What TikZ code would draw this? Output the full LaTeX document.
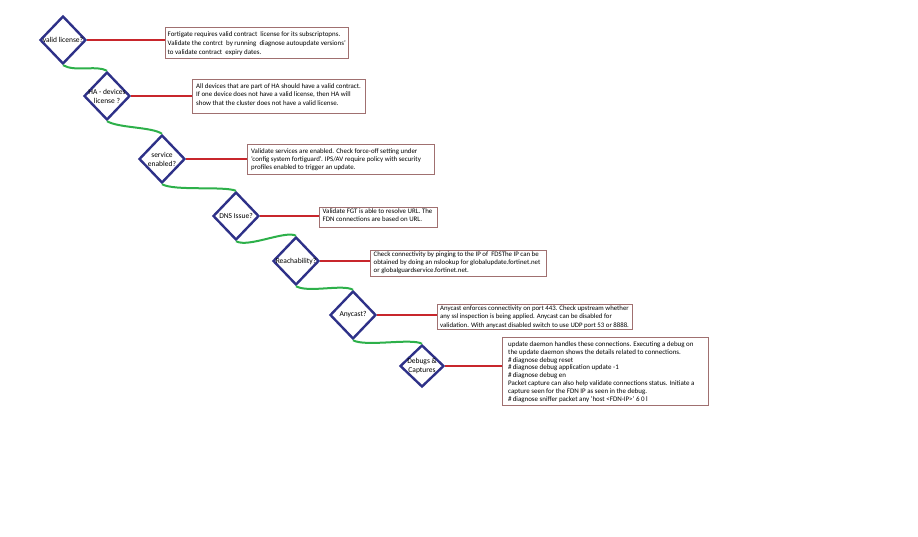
\documentclass[tikz,border=0pt]{standalone}
\usepackage{fontspec}
\setmainfont{Carlito}
\usetikzlibrary{shapes.geometric}
\definecolor{dblue}{HTML}{2E3188}
\definecolor{lred}{HTML}{C8262C}
\definecolor{lgreen}{HTML}{2DB04A}
\definecolor{bgrey}{HTML}{A07070}
\tikzset{
  dia/.style={draw=dblue, line width=2.4pt, diamond, inner sep=0pt, minimum width=46pt, minimum height=48pt},
  dtext/.style={font=\fontsize{7.5}{9}\selectfont, align=center, inner sep=0pt, text=black},
  boxr/.style={draw=bgrey, line width=0.6pt, anchor=north west, inner sep=0pt, rectangle},
  btext/.style={anchor=north west, inner sep=0pt, align=left, text=black},
  redline/.style={draw=lred, line width=2.4pt},
  greenline/.style={draw=lgreen, line width=2pt},
}
\newcommand{\bfnt}[2]{\fontsize{#1}{#2}\selectfont}
\begin{document}
\begin{tikzpicture}[x=1pt,y=-1pt]
\useasboundingbox (0,0) rectangle (918,536);
% diamonds
\node[dia] (d1) at (63,40) {};
\node[dia] (d2) at (107,96) {};
\node[dia] (d3) at (162,159) {};
\node[dia] (d4) at (236,216) {};
\node[dia] (d5) at (296,261) {};
\node[dia] (d6) at (353,315) {};
\node[dia, minimum width=44pt, minimum height=42pt] (d7) at (422,366) {};
\node[dtext] (t1) at (d1) {valid license?};
\node[dtext] (t2) at (d2) {HA - devices\\license ?};
\node[dtext] (t3) at (d3) {service\\enabled?};
\node[dtext] (t4) at (d4) {DNS Issue?};
\node[dtext] (t5) at (d5) {Reachability?};
\node[dtext] (t6) at (d6) {Anycast?};
\node[dtext] (t7) at (d7) {Debugs \&\\Captures};
% boxes
\node[boxr, minimum width=183pt, minimum height=31pt] (b1) at (165,27) {};
\node[boxr, minimum width=173pt, minimum height=34pt] (b2) at (192,79) {};
\node[boxr, minimum width=187pt, minimum height=30pt] (b3) at (247,144) {};
\node[boxr, minimum width=118pt, minimum height=20pt] (b4) at (319,207) {};
\node[boxr, minimum width=176pt, minimum height=26pt] (b5) at (370,250) {};
\node[boxr, minimum width=195pt, minimum height=25pt] (b6) at (437,304) {};
\node[boxr, minimum width=206pt, minimum height=68pt] (b7) at (502,337) {};
% box texts
\node[btext, font=\bfnt{6.95}{9}] (x1) at ([xshift=2.5pt,yshift=-4.2pt]b1.north west) {Fortigate requires valid contract\ \ license for its subscriptopns.\\Validate the contrct\ \ by running\ \ diagnose autoupdate versions'\\to validate contract\ \ expiry dates.};
\node[btext, font=\bfnt{6.9}{8.7}] (x2) at ([xshift=4pt,yshift=-4.2pt]b2.north west) {All devices that are part of HA should have a valid contract.\\If one device does not have a valid license, then HA will\\show that the cluster does not have a valid license.};
\node[btext, font=\bfnt{6.9}{8}] (x3) at ([xshift=4pt,yshift=-5pt]b3.north west) {Validate services are enabled. Check force-off setting under\\'config system fortiguard'. IPS/AV require policy with security\\profiles enabled to trigger an update.};
\node[btext, font=\bfnt{6.9}{8}] (x4) at ([xshift=3.5pt,yshift=-1.5pt]b4.north west) {Validate FGT is able to resolve URL. The\\FDN connections are based on URL.};
\node[btext, font=\bfnt{6.85}{8}] (x5) at ([xshift=3.5pt,yshift=-1.5pt]b5.north west) {Check connectivity by pinging to the IP of\ \ FDSThe IP can be\\obtained by doing an nslookup for globalupdate.fortinet.net\\or globalguardservice.fortinet.net.};
\node[btext, font=\bfnt{6.8}{8.3}] (x6) at ([xshift=3pt,yshift=-1.5pt]b6.north west) {Anycast enforces connectivity on port 443. Check upstream whether\\any ssl inspection is being applied. Anycast can be disabled for\\validation. With anycast disabled switch to use UDP port 53 or 8888.};
\node[btext, font=\bfnt{6.95}{7.9}] (x7) at ([xshift=6pt,yshift=-4.2pt]b7.north west) {update daemon handles these connections. Executing a debug on\\the update daemon shows the details related to connections.\\\#\,diagnose debug reset\\\#\,diagnose debug application update -1\\\#\,diagnose debug en\\Packet capture can also help validate connections status. Initiate a\\capture seen for the FDN IP as seen in the debug.\\\#\,diagnose sniffer packet any 'host <FDN-IP>' 6 0 l};
% red connectors
\foreach \i in {1,...,7}{
  \draw[redline] (d\i.east) -- (d\i.east -| b\i.west);
}
% green connectors
\draw[greenline] (d1.south) .. controls +(12,7) and +(-10,-6) .. (d2.north);
\draw[greenline] (d2.south) .. controls +(12,7) and +(-10,-7) .. (d3.north);
\draw[greenline] (d3.south) .. controls +(12,7) and +(-12,-5) .. (d4.north);
\draw[greenline] (d4.south) .. controls +(12,7) and +(-10,-6) .. (d5.north);
\draw[greenline] (d5.south) .. controls +(12,7) and +(-10,-6) .. (d6.north);
\draw[greenline] (d6.south) .. controls +(12,7) and +(-10,-6) .. (d7.north);
\end{tikzpicture}
\end{document}
